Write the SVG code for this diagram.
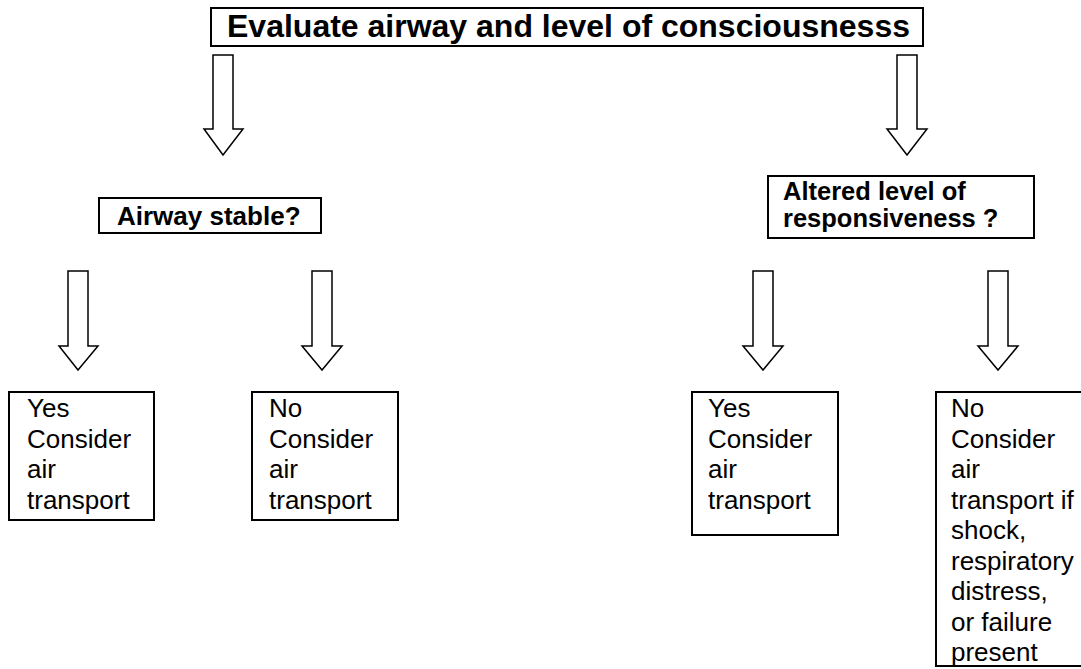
<svg xmlns="http://www.w3.org/2000/svg" width="1081" height="669" viewBox="0 0 1081 669">
<style>
.box{fill:#fff;stroke:#000;stroke-width:2}
.arrow{fill:#fff;stroke:#000;stroke-width:1.5;stroke-linejoin:miter}
.t{font-family:"Liberation Sans",Arial,sans-serif;fill:#000}
.h1{font-size:32px;font-weight:bold}
.h2{font-size:26px;font-weight:bold}
.h3{font-size:25.5px;font-weight:bold}
.b{font-size:26px}
</style>
<rect width="1081" height="669" fill="#fff"/>
<g id="connectors">
<path class="arrow" d="M213,55 H233 V129 H243 L223,155 L204,129 H213 Z"/>
<path class="arrow" d="M897,55 H917 V129 H927 L907,155 L887,129 H897 Z"/>
<path class="arrow" d="M68,271 H88 V346 H98 L78,370 L59,346 H68 Z"/>
<path class="arrow" d="M312,271 H332 V346 H342 L322,370 L302,346 H312 Z"/>
<path class="arrow" d="M753,271 H773 V346 H783 L763,370 L743,346 H753 Z"/>
<path class="arrow" d="M988,271 H1008 V346 H1018 L998,370 L978,346 H988 Z"/>
</g>
<g id="n-evaluate">
<rect class="box" x="211" y="8" width="712" height="38"/>
<text class="t h1" x="227" y="37">Evaluate airway and level of consciousnesss</text>
</g>
<g id="n-airway">
<rect class="box" x="99" y="198" width="222" height="35"/>
<text class="t h2" x="117" y="225">Airway stable?</text>
</g>
<g id="n-altered">
<rect class="box" x="768" y="176" width="266" height="62"/>
<text class="t h3" x="783" y="200">Altered level of</text>
<text class="t h3" x="783" y="227">responsiveness ?</text>
</g>
<g id="n-airway-yes">
<rect class="box" x="9" y="392" width="145" height="128"/>
<text class="t b" x="27" y="417">Yes</text>
<text class="t b" x="27" y="447.5">Consider</text>
<text class="t b" x="27" y="478">air</text>
<text class="t b" x="27" y="508.5">transport</text>
</g>
<g id="n-airway-no">
<rect class="box" x="252" y="392" width="146" height="128"/>
<text class="t b" x="269" y="417">No</text>
<text class="t b" x="269" y="447.5">Consider</text>
<text class="t b" x="269" y="478">air</text>
<text class="t b" x="269" y="508.5">transport</text>
</g>
<g id="n-altered-yes">
<rect class="box" x="692" y="392" width="146" height="143"/>
<text class="t b" x="708" y="417">Yes</text>
<text class="t b" x="708" y="447.5">Consider</text>
<text class="t b" x="708" y="478">air</text>
<text class="t b" x="708" y="508.5">transport</text>
</g>
<g id="n-altered-no">
<rect class="box" x="936" y="392" width="160" height="274"/>
<text class="t b" x="951" y="417">No</text>
<text class="t b" x="951" y="447.5">Consider</text>
<text class="t b" x="951" y="478">air</text>
<text class="t b" x="951" y="508.5">transport if</text>
<text class="t b" x="951" y="539">shock,</text>
<text class="t b" x="951" y="569.5">respiratory</text>
<text class="t b" x="951" y="600">distress,</text>
<text class="t b" x="951" y="630.5">or failure</text>
<text class="t b" x="951" y="661">present</text>
</g>
</svg>
